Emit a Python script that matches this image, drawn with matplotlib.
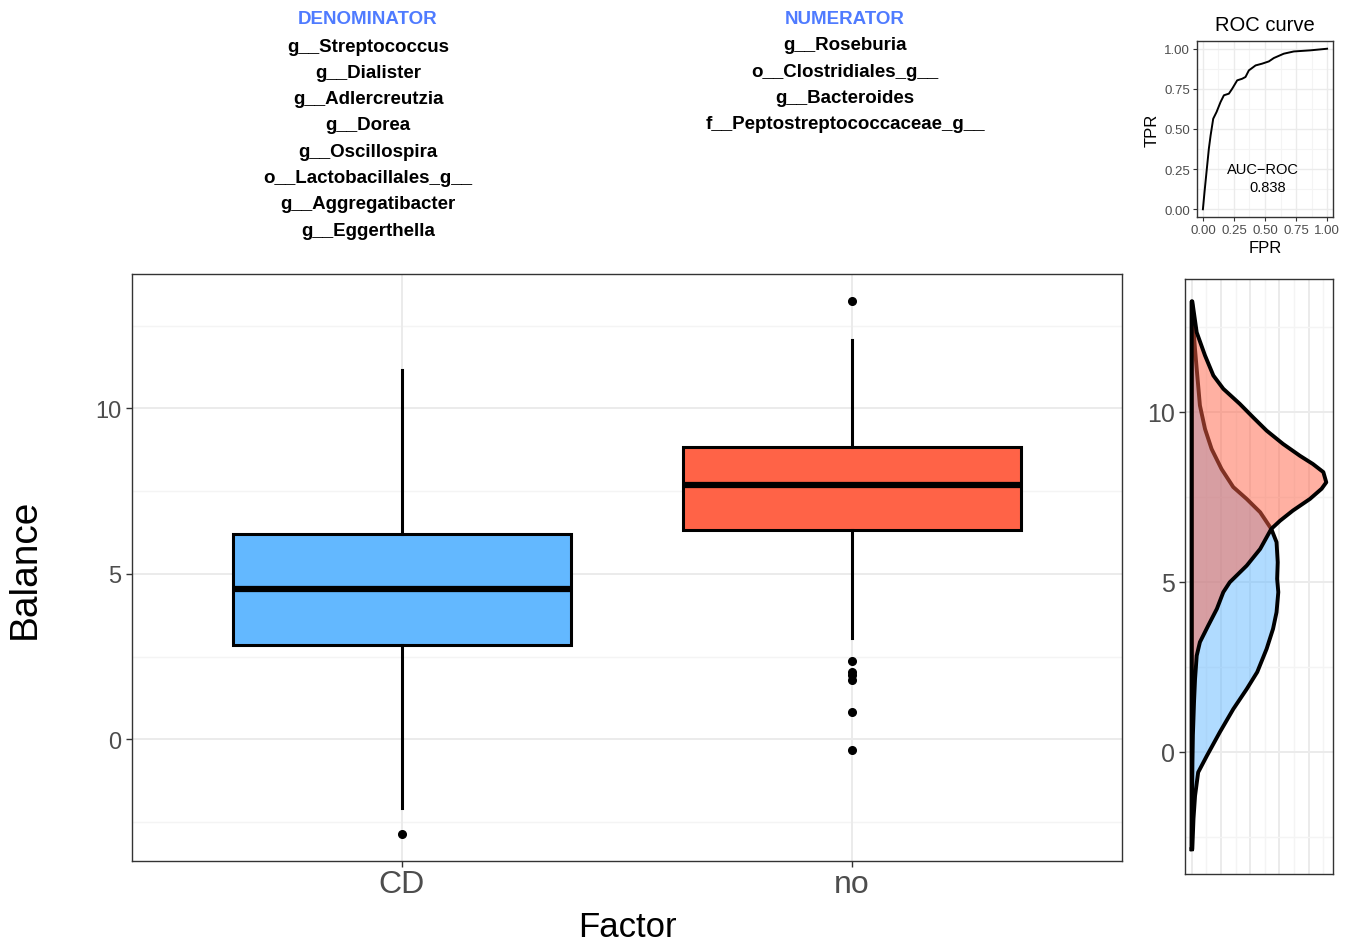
import numpy as np
import matplotlib
matplotlib.use("Agg")
import matplotlib.pyplot as plt

plt.rcParams["font.family"] = ["Liberation Sans", "DejaVu Sans"]

W, H = 1357, 945

# ---- data ----
groups = ["CD", "no"]
box_colors = ["#63B8FF", "#FF6347"]
# q1, median, q3, whisker low, whisker high
box_stats = {
    "CD": dict(q1=2.86, med=4.55, q3=6.20, whislo=-2.08, whishi=11.17),
    "no": dict(q1=6.33, med=7.68, q3=8.83, whislo=3.06, whishi=12.08),
}
outliers_cd = [-2.86]
outliers_no = [13.25, 2.36, 2.05, 1.94, 1.81, 0.83, -0.33]

# density curves (balance value, density)
dens_y_cd = [-2.86, -1.97, -1.29, -0.60, -0.11, 0.58, 1.26, 1.85, 2.35, 3.03, 3.62,
             4.11, 4.70, 5.09, 5.58, 6.17, 6.56, 7.05, 7.44, 7.79, 8.32, 8.91,
             9.50, 10.19, 11.17, 11.85, 12.44, 13.25]
dens_cd = [0.001, 0.003, 0.0057, 0.011, 0.026, 0.048, 0.071, 0.094, 0.112, 0.128, 0.139,
           0.145, 0.148, 0.146, 0.147, 0.145, 0.136, 0.117, 0.094, 0.071, 0.051, 0.034,
           0.0227, 0.014, 0.009, 0.0056, 0.003, 0.0005]
dens_y_no = [-2.86, -1.5, -0.33, 0.5, 1.5, 2.15, 2.83, 3.23, 3.71, 4.21, 4.70, 4.99,
             5.48, 5.97, 6.56, 6.80, 7.10, 7.44, 7.74, 7.93, 8.23, 8.47, 8.71, 9.06,
             9.45, 9.84, 10.24, 10.68, 11.07, 11.66, 12.34, 13.25]
dens_no = [0.0002, 0.0005, 0.0012, 0.002, 0.004, 0.0057, 0.0085, 0.014, 0.028, 0.043,
           0.054, 0.065, 0.094, 0.117, 0.136, 0.151, 0.173, 0.202, 0.222, 0.230, 0.225,
           0.207, 0.185, 0.156, 0.128, 0.105, 0.082, 0.054, 0.037, 0.0227, 0.0085, 0.001]

# ROC curve
fpr = [0, 0.013, 0.029, 0.048, 0.062, 0.083, 0.110, 0.142, 0.169, 0.209, 0.236, 0.276,
       0.316, 0.343, 0.370, 0.424, 0.477, 0.531, 0.571, 0.651, 0.732, 0.866, 1.0]
tpr = [0, 0.108, 0.232, 0.378, 0.46, 0.564, 0.606, 0.668, 0.710, 0.720, 0.751, 0.803,
       0.813, 0.824, 0.865, 0.896, 0.907, 0.921, 0.942, 0.969, 0.983, 0.990, 1.0]
auc = 0.838

denominator = ["g__Streptococcus", "g__Dialister", "g__Adlercreutzia", "g__Dorea",
               "g__Oscillospira", "o__Lactobacillales_g__", "g__Aggregatibacter",
               "g__Eggerthella"]
numerator = ["g__Roseburia", "o__Clostridiales_g__", "g__Bacteroides",
             "f__Peptostreptococcaceae_g__"]

grey20 = "#333333"
grey30 = "#4D4D4D"
grid_major = "#EBEBEB"
grid_minor = "#F4F4F4"


def ax_rect(left, top, right, bottom):
    return [left / W, 1 - bottom / H, (right - left) / W, (bottom - top) / H]


def style_bw(ax):
    for s in ax.spines.values():
        s.set_color(grey20)
        s.set_linewidth(1.0)
    ax.set_axisbelow(True)


fig = plt.figure(figsize=(W / 100, H / 100), dpi=100)

# ---- main boxplot ----
ax = fig.add_axes(ax_rect(132, 275, 1122, 862))
style_bw(ax)
ylim = (-3.67, 14.06)
ax.set_ylim(*ylim)
ax.set_xlim(0.4, 2.6)
for v in [-2.5, 2.5, 7.5, 12.5]:
    ax.axhline(v, color=grid_minor, lw=1.0, zorder=0)
for v in [0, 5, 10]:
    ax.axhline(v, color=grid_major, lw=1.4, zorder=0)
for v in [1, 2]:
    ax.axvline(v, color=grid_major, lw=1.4, zorder=0)

stats = []
for g in groups:
    d = dict(box_stats[g])
    d["fliers"] = []
    d["label"] = g
    stats.append(d)
bp = ax.bxp(stats, positions=[1, 2], widths=0.75, patch_artist=True, showcaps=False,
            showfliers=False,
            boxprops=dict(linewidth=2.2, edgecolor="black"),
            whiskerprops=dict(linewidth=2.2, color="black"),
            medianprops=dict(linewidth=4.5, color="black", solid_capstyle="butt"))
for patch, c in zip(bp["boxes"], box_colors):
    patch.set_facecolor(c)
ax.plot([1] * len(outliers_cd), outliers_cd, "o", color="black", ms=5.5, zorder=5)
ax.plot([2] * len(outliers_no), outliers_no, "o", color="black", ms=5.5, zorder=5)

ax.set_yticks([0, 5, 10])
ax.set_yticklabels(["0", "5", "10"])
ax.set_xticks([1, 2])
ax.set_xticklabels(groups)
ax.tick_params(axis="y", labelsize=17, colors=grey20, labelcolor=grey30, length=4, width=1)
ax.tick_params(axis="x", labelsize=23, colors=grey20, labelcolor=grey30, length=4, width=1, pad=2)
ax.set_xlabel("Factor", fontsize=25, labelpad=8)
ax.set_ylabel("Balance", fontsize=28, labelpad=38)

# ---- density panel ----
axd = fig.add_axes(ax_rect(1185, 280, 1333, 875))
style_bw(axd)
dmax = 0.23
axd.set_xlim(-0.05 * dmax, 1.05 * dmax)
axd.set_ylim(-3.59, 13.91)
for v in np.arange(0.025, 0.24, 0.05):
    axd.axvline(v, color=grid_minor, lw=1.0, zorder=0)
for v in np.arange(0, 0.21, 0.05):
    axd.axvline(v, color=grid_major, lw=1.4, zorder=0)
for v in [-2.5, 2.5, 7.5, 12.5]:
    axd.axhline(v, color=grid_minor, lw=1.0, zorder=0)
for v in [0, 5, 10]:
    axd.axhline(v, color=grid_major, lw=1.4, zorder=0)

for yy, dd, c in [(dens_y_cd, dens_cd, box_colors[0]), (dens_y_no, dens_no, box_colors[1])]:
    yy = np.array(yy)
    dd = np.array(dd)
    axd.fill_betweenx(yy, 0, dd, color=c, alpha=0.5, lw=0, zorder=2)
    xs = np.concatenate([[0], dd, [0], [0]])
    ys = np.concatenate([[yy[0]], yy, [yy[-1]], [yy[0]]])
    axd.plot(xs, ys, color="black", lw=2.8, zorder=2, solid_joinstyle="round")

axd.set_xticks([])
axd.set_yticks([0, 5, 10])
axd.set_yticklabels(["0", "5", "10"])
axd.tick_params(axis="y", labelsize=18, colors=grey20, labelcolor=grey30, length=4, width=1)

# ---- ROC panel ----
axr = fig.add_axes(ax_rect(1196.7, 41.7, 1333.3, 218.3))
style_bw(axr)
axr.set_xlim(-0.05, 1.05)
axr.set_ylim(-0.05, 1.05)
ticks = [0, 0.25, 0.5, 0.75, 1.0]
for v in [0.125, 0.375, 0.625, 0.875]:
    axr.axvline(v, color=grid_minor, lw=0.8, zorder=0)
    axr.axhline(v, color=grid_minor, lw=0.8, zorder=0)
for v in ticks:
    axr.axvline(v, color=grid_major, lw=1.0, zorder=0)
    axr.axhline(v, color=grid_major, lw=1.0, zorder=0)
axr.plot(fpr, tpr, color="black", lw=1.4)
axr.text(0.48, 0.25, "AUC\u2212ROC", ha="center", va="center", fontsize=10.5)
axr.text(0.52, 0.14, f"{auc:.3f}", ha="center", va="center", fontsize=10.5)
axr.set_xticks(ticks)
axr.set_xticklabels([f"{t:.2f}" for t in ticks])
axr.set_yticks(ticks)
axr.set_yticklabels([f"{t:.2f}" for t in ticks])
axr.tick_params(labelsize=9.5, colors=grey20, labelcolor=grey30, length=3, width=0.8, pad=2)
axr.set_xlabel("FPR", fontsize=12, labelpad=3)
axr.set_ylabel("TPR", fontsize=12, labelpad=3)
axr.set_title("ROC curve", fontsize=14.5, pad=8)

# ---- header text ----
blue = "#4F7BFF"
fig.text(368 / W, 1 - 20 / H, "DENOMINATOR", color=blue, fontsize=13.5,
         fontweight="bold", ha="center", va="center")
for i, s in enumerate(denominator):
    fig.text(368 / W, 1 - (47 + 26.3 * i) / H, s, fontsize=13.5, fontweight="bold",
             ha="center", va="center")
fig.text(845 / W, 1 - 20 / H, "NUMERATOR", color=blue, fontsize=13.5,
         fontweight="bold", ha="center", va="center")
for i, s in enumerate(numerator):
    fig.text(845 / W, 1 - (46 + 26.3 * i) / H, s, fontsize=13.5, fontweight="bold",
             ha="center", va="center")

fig.savefig("out.png", dpi=100)
